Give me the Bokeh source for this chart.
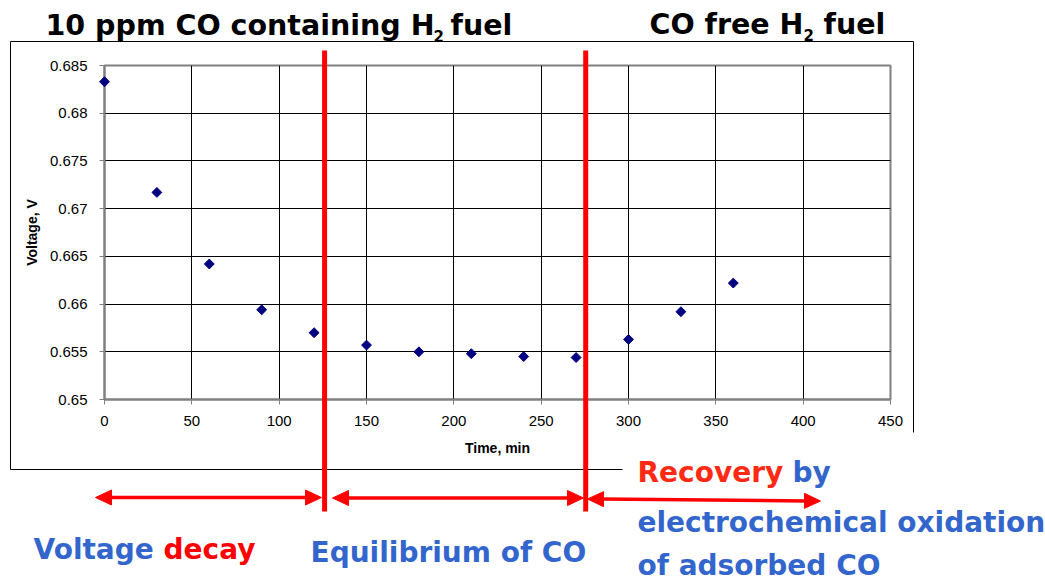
import math
from bokeh.plotting import figure
from bokeh.models import Range1d, FixedTicker, CustomJSTickFormatter, ColumnDataSource
from bokeh.core.properties import value
from bokeh.embed import file_html
from bokeh.resources import INLINE

# ---------------- data ----------------
time_min = [0, 30, 60, 90, 120, 150, 180, 210, 240, 270, 300, 330, 360]
voltage_v = [0.6833, 0.6717, 0.6642, 0.6594, 0.6570, 0.6557, 0.6550,
             0.6548, 0.6545, 0.6544, 0.6563, 0.6592, 0.6622]
x_ticks = [0, 50, 100, 150, 200, 250, 300, 350, 400, 450]
y_ticks = [0.65, 0.655, 0.66, 0.665, 0.67, 0.675, 0.68, 0.685]
phase_boundaries = [126, 275.5]   # minutes where the red separators are drawn

# ---------------- layout helpers (page pixel -> data coords) ----------------
W, H = 1045, 583
FL, FR, FT, FB = 104, 890, 65, 399  # frame edges in page pixels
SX = 450.0 / (FR - FL)
def X(px):
    return (px - FL) * SX
def Y(py):
    return 0.685 - (py - FT) / (FB - FT) * 0.035

p = figure(width=W, height=H, output_backend="svg", toolbar_location=None,
           x_range=Range1d(0, 450), y_range=Range1d(0.65, 0.685),
           min_border_left=FL, min_border_right=W - FR,
           min_border_top=FT, min_border_bottom=H - FB)
p.background_fill_color = "white"
p.border_fill_color = "white"
p.outline_line_color = "#808080"
p.outline_line_width = 2

p.xaxis.ticker = FixedTicker(ticks=x_ticks)
p.yaxis.ticker = FixedTicker(ticks=y_ticks)
p.yaxis.formatter = CustomJSTickFormatter(code="return tick.toFixed(3).replace(/0+$/, '');")
for ax in (p.xaxis[0], p.yaxis[0]):
    ax.axis_line_color = "#808080"
    ax.axis_line_width = 2
    ax.major_tick_line_color = "#808080"
    ax.major_tick_line_width = 1
    ax.major_tick_out = 5
    ax.major_tick_in = 0
    ax.minor_tick_line_color = None
    ax.major_label_text_font = "Liberation Sans"
    ax.major_label_text_font_size = "15px"
    ax.major_label_text_color = "black"
    ax.axis_label_text_font = "Liberation Sans"
    ax.axis_label_text_font_size = "14px"
    ax.axis_label_text_font_style = "bold"
    ax.axis_label_text_color = "black"
p.xaxis.axis_label = "Time, min"
p.yaxis.axis_label = "Voltage, V"
p.xaxis.major_label_standoff = 11
p.xaxis.axis_label_standoff = 11
p.yaxis.major_label_standoff = 12
p.yaxis.axis_label_standoff = 7

p.xgrid.grid_line_color = "black"
p.ygrid.grid_line_color = "black"
p.xgrid.grid_line_width = 1
p.ygrid.grid_line_width = 1

# outer chart box (bottom-right corner hidden behind the text block)
p.segment(x0=[X(10), X(10), X(913), X(10)],
          y0=[Y(41), Y(41), Y(41), Y(469)],
          x1=[X(913), X(10), X(913), X(622)],
          y1=[Y(41), Y(469), Y(432), Y(469)],
          line_color="black", line_width=1, level="overlay")

# data
src = ColumnDataSource(dict(t=time_min, v=voltage_v))
p.scatter("t", "v", source=src, marker="square", angle=0.7854, size=7,
          fill_color="#000080", line_color="#000080", level="overlay")

# red phase separators
p.segment(x0=phase_boundaries, x1=phase_boundaries,
          y0=[Y(50)] * 2, y1=[Y(511)] * 2,
          line_color="#ff0000", line_width=5, level="overlay")

# double-headed arrows (line + triangular heads), page-pixel endpoints
HL, HW = 16, 15
arrows = [(95, 497, 321, 497), (332, 497.5, 583, 497.5), (587, 498.5, 820, 500.5)]
lx0, ly0, lx1, ly1 = [], [], [], []
for (xa, ya, xb, yb) in arrows:
    ux, uy = (xb - xa), (yb - ya)
    L = math.hypot(ux, uy)
    ux, uy = ux / L, uy / L
    px_, py_ = -uy, ux
    lx0.append(X(xa + ux * (HL - 2))); ly0.append(Y(ya + uy * (HL - 2)))
    lx1.append(X(xb - ux * (HL - 2))); ly1.append(Y(yb - uy * (HL - 2)))
    for (tx, ty, s) in [(xb, yb, -1), (xa, ya, 1)]:
        bx, by = tx + s * ux * HL, ty + s * uy * HL
        pts = [(tx, ty), (bx + px_ * HW / 2, by + py_ * HW / 2), (bx - px_ * HW / 2, by - py_ * HW / 2)]
        p.patch(x=[X(q[0]) for q in pts], y=[Y(q[1]) for q in pts],
                fill_color="#ff0000", line_color="#ff0000", line_width=1, level="overlay")
p.segment(x0=lx0, y0=ly0, x1=lx1, y1=ly1, line_color="#ff0000", line_width=3.5,
          level="overlay")

BLUE = "#3366cc"
RED = "#ff0000"
# (left x, vertical centre y, text, colour, size) in page pixels
texts = [
    (45, 25, "10 ppm CO containing H", "black", "28.5px"),
    (433, 35, "2", "black", "15px"),
    (450, 25, "fuel", "black", "28.5px"),
    (649, 24, "CO free H", "black", "28.5px"),
    (803, 34, "2", "black", "15px"),
    (823, 24, "fuel", "black", "28.5px"),
    (33, 549, "Voltage", BLUE, "28px"),
    (163, 549, "decay", RED, "28px"),
    (310, 551.5, "Equilibrium of CO", BLUE, "28px"),
    (637, 471.5, "Recovery", "#ff2a14", "28px"),
    (792, 471.5, "by", BLUE, "28px"),
    (637, 521.5, "electrochemical oxidation", BLUE, "28px"),
    (637, 565, "of adsorbed CO", BLUE, "28px"),
]
tsrc = ColumnDataSource(dict(x=[X(t[0]) for t in texts], y=[Y(t[1]) for t in texts],
                             s=[t[2] for t in texts], c=[t[3] for t in texts],
                             fs=[t[4] for t in texts]))
p.text(x="x", y="y", text="s", text_color="c", text_font_size="fs", source=tsrc,
       text_font=value("DejaVu Sans"),
       text_font_style="bold", text_baseline="alphabetic", text_align="left",
       level="overlay")

open("out.html", "w").write(file_html(p, INLINE))
